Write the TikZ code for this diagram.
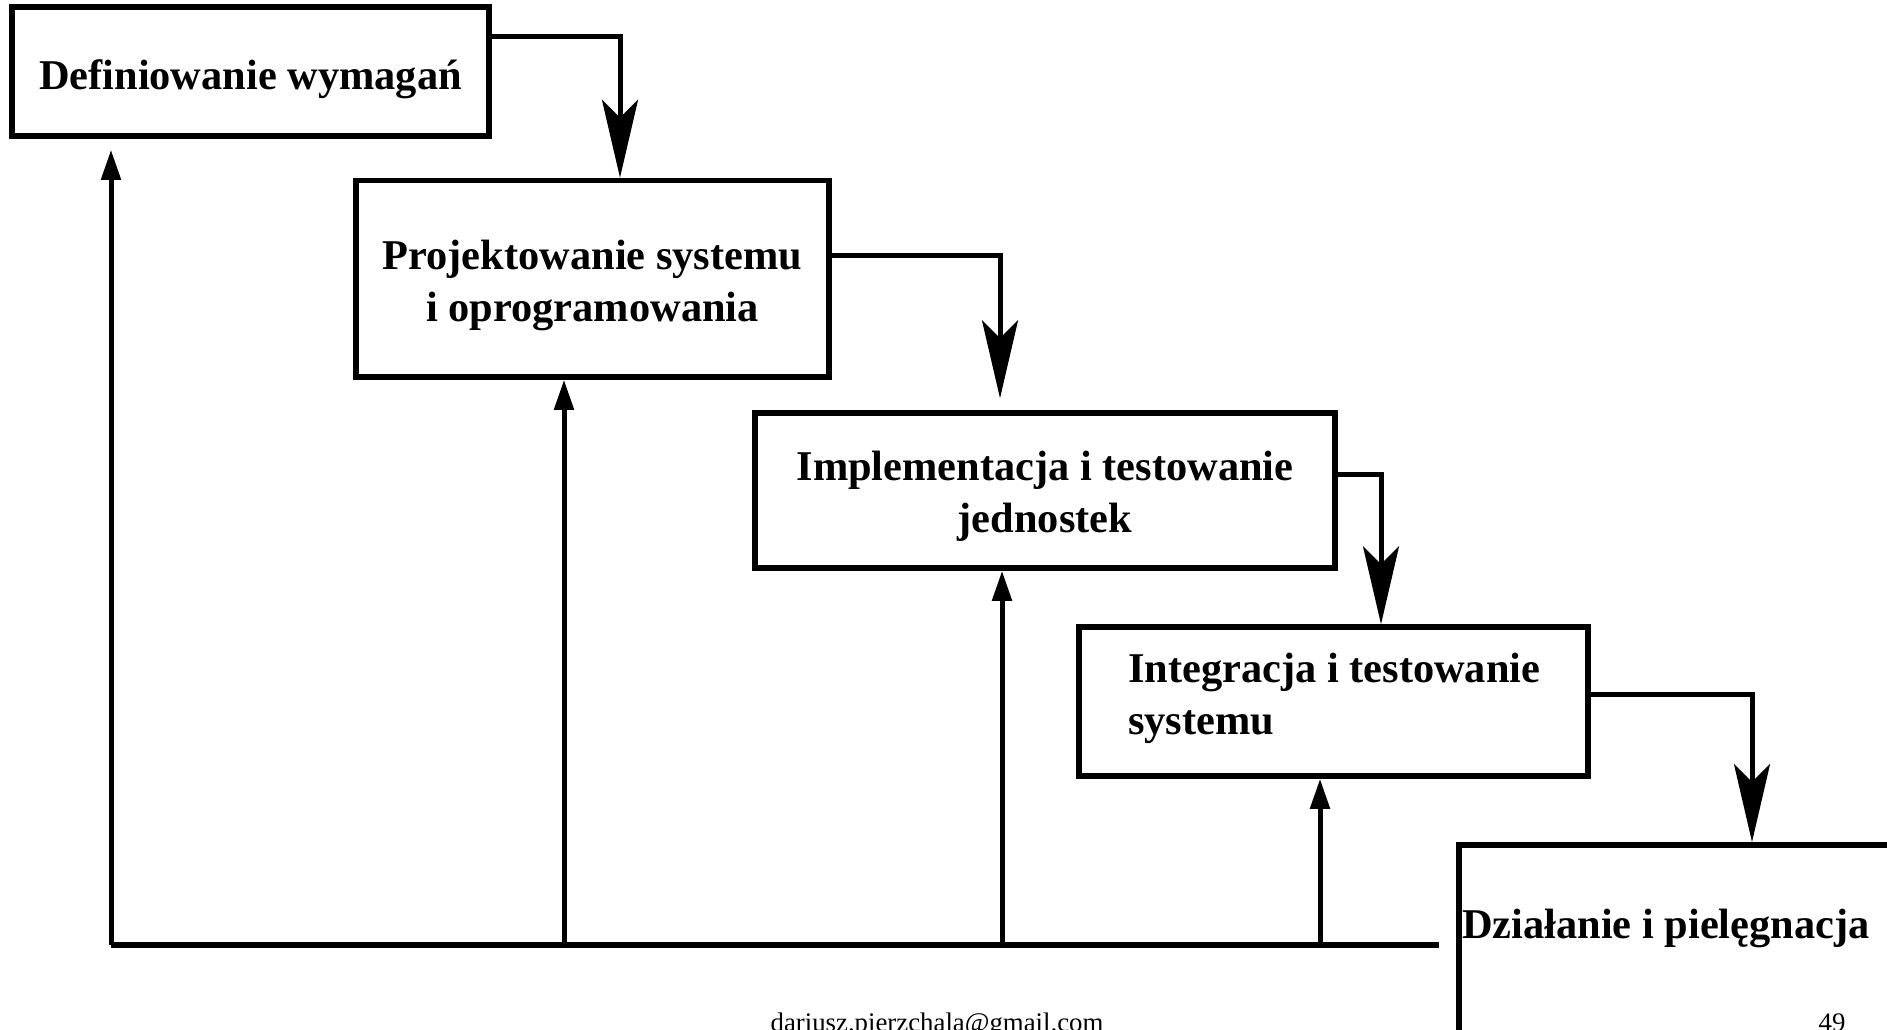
\documentclass[tikz,border=0pt]{standalone}
\usepackage{fontspec}
\setmainfont{Liberation Serif}
\usetikzlibrary{arrows.meta}
\begin{document}
\begin{tikzpicture}[x=1pt,y=-1pt,
  box/.style={draw,line width=5.5pt,inner sep=0pt},
  lbl/.style={inner sep=0pt,font=\fontsize{42.4}{52}\selectfont\bfseries},
  foot/.style={inner sep=0pt,font=\fontsize{26.8}{32}\selectfont,anchor=base},
  down/.style={line width=5pt,-{Stealth[length=78pt,width=36pt,inset=18pt]}},
  up/.style={line width=5pt,-{Triangle[length=30pt,width=19pt]}},
]
\useasboundingbox (0,0) rectangle (1887,1029);
\clip (0,0) rectangle (1887,1029);
\fill[white] (0,0) rectangle (1887,1029);
% boxes
\node[box,minimum width=477pt,minimum height=129pt] (b1) at (250.5,71.5) {};
\node[box,minimum width=473pt,minimum height=196.5pt] (b2) at (592.5,278.75) {};
\node[box,minimum width=580pt,minimum height=155pt] (b3) at (1045,490.5) {};
\node[box,minimum width=509pt,minimum height=149pt] (b4) at (1333.5,701.5) {};
\node[box,anchor=north west,minimum width=500pt,minimum height=260pt] (b5) at (1456,842) {};
% texts
\node[lbl] (t1) at ([yshift=-8pt]b1.center) {Definiowanie wymagań};
\node[lbl,align=center] (t2) at ([yshift=-7pt]b2.center) {Projektowanie systemu\\i oprogramowania};
\node[lbl,align=center] (t3) at ([yshift=-6pt]b3.center) {Implementacja i testowanie\\jednostek};
\node[lbl,align=left,anchor=west] (t4) at ([yshift=3pt]b4.center -| 1128,0) {Integracja i testowanie\\systemu};
\node[lbl,anchor=west] (t5) at (1462,928) {Działanie i pielęgnacja};
% forward connectors
\coordinate (k1) at (620,36);
\coordinate (k2) at (1000,255);
\coordinate (k3) at (1381,474);
\coordinate (k4) at (1752,694);
\draw[down] (k1 -| b1.east) -| (b2.north -| k1);
\draw[down,shorten >=12pt] (k2 -| b2.east) -| (b3.north -| k2);
\draw[down] (k3 -| b3.east) -| (b4.north -| k3);
\draw[down] (k4 -| b4.east) -| (b5.north -| k4);
% feedback line
\coordinate (f1) at (111,945);
\coordinate (f2) at (564,945);
\coordinate (f3) at (1002,945);
\coordinate (f4) at (1320,945);
\coordinate (fe) at (1439,945);
\draw[line width=6.5pt] (f1) -- (fe);
\draw[up,shorten >=11pt] (f1) -- (b1.south -| f1);
\draw[up] (f2) -- (b2.south -| f2);
\draw[up] (f3) -- (b3.south -| f3);
\draw[up] (f4) -- (b4.south -| f4);
% footer
\node[foot] (mail) at (937,1031) {dariusz.pierzchala@gmail.com};
\node[foot] (pg) at (1832,1031) {49};
\end{tikzpicture}
\end{document}
